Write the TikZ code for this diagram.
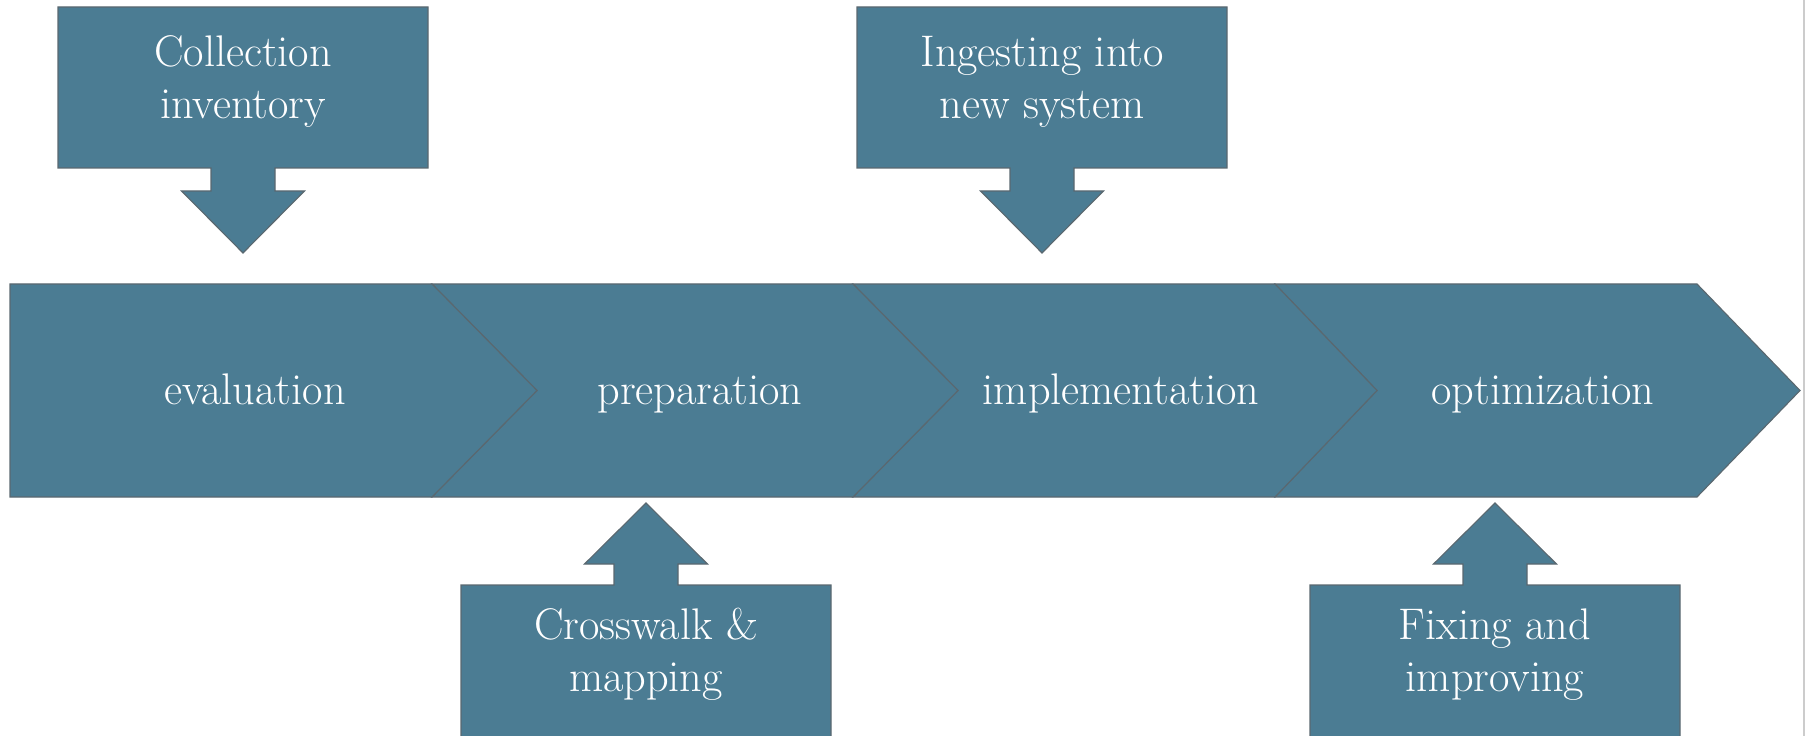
\documentclass[tikz,border=0pt]{standalone}
\usepackage{tikz}

\definecolor{slate}{HTML}{4B7C93}
\definecolor{slateedge}{HTML}{5A6870}

\tikzset{
  stage/.style={fill=slate, draw=slateedge, line width=0.8pt, line join=miter},
  stagetext/.style={text=white, font=\fontsize{31.5}{37}\selectfont},
  callout/.style={stagetext, align=center},
}

\begin{document}
\begin{tikzpicture}[x=0.25mm, y=-0.25mm]

  \useasboundingbox (0,0) rectangle (1808,736);
  \clip (0,0) rectangle (1808,736);

  \newcommand\Top{284}
  \newcommand\Bot{497}
  \newcommand\Mid{390.5}

  %% chevrons, right to left so each point lies over the next one
  \draw[stage] (1275,\Top) -- (1697,\Top) -- (1800,\Mid) -- (1697,\Bot) -- (1275,\Bot) -- (1377,\Mid) -- cycle;
  \draw[stage] (853,\Top) -- (1275,\Top) -- (1377,\Mid) -- (1275,\Bot) -- (853,\Bot) -- (958,\Mid) -- cycle;
  \draw[stage] (432,\Top) -- (853,\Top) -- (958,\Mid) -- (853,\Bot) -- (432,\Bot) -- (537,\Mid) -- cycle;
  \draw[stage] (10,\Top) -- (432,\Top) -- (537,\Mid) -- (432,\Bot) -- (10,\Bot) -- cycle;

  \node[stagetext, anchor=base] (evaluation) at (255,405) {evaluation};
  \node[stagetext, anchor=base] (preparation) at (700,405) {preparation};
  \node[stagetext, anchor=base] (implementation) at (1121,405) {implementation};
  \node[stagetext, anchor=base] (optimization) at (1543,405) {optimization};

  %% callouts above, pointing down
  \draw[stage] (243,87.5) node[callout, yshift=1.4mm] (inventory) {Collection\\inventory}
    ++(-185,-80.5) -- ++(370,0) -- ++(0,161) -- ++(-153,0) -- ++(0,23) -- ++(29.5,0)
    -- ++(-61.5,62) -- ++(-61.5,-62) -- ++(29.5,0) -- ++(0,-23) -- ++(-153,0) -- cycle;
  \draw[stage] (1042,87.5) node[callout, yshift=1.4mm] (ingest) {Ingesting into\\new system}
    ++(-185,-80.5) -- ++(370,0) -- ++(0,161) -- ++(-153,0) -- ++(0,23) -- ++(29.5,0)
    -- ++(-61.5,62) -- ++(-61.5,-62) -- ++(29.5,0) -- ++(0,-23) -- ++(-153,0) -- cycle;

  %% callouts below, pointing up
  \draw[stage] (646,665.5) node[callout, yshift=2.8mm] (crosswalk) {Crosswalk \&\\mapping}
    ++(-185,80.5) -- ++(0,-161) -- ++(153,0) -- ++(0,-21) -- ++(-29.5,0)
    -- ++(61.5,-61) -- ++(61.5,61) -- ++(-29.5,0) -- ++(0,21) -- ++(153,0) -- ++(0,161) -- cycle;
  \draw[stage] (1495,665.5) node[callout, yshift=2.8mm] (fixing) {Fixing and\\improving}
    ++(-185,80.5) -- ++(0,-161) -- ++(153,0) -- ++(0,-21) -- ++(-29.5,0)
    -- ++(61.5,-61) -- ++(61.5,61) -- ++(-29.5,0) -- ++(0,21) -- ++(153,0) -- ++(0,161) -- cycle;

  %% page edge
  \draw[black!20, line width=1pt] (1804,0) -- (1804,736);

\end{tikzpicture}
\end{document}
